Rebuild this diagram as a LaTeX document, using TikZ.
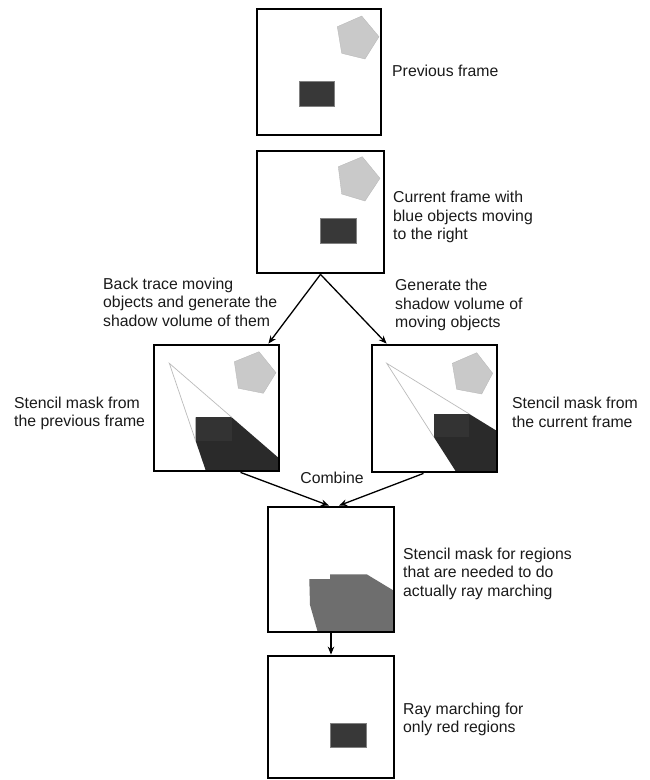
\documentclass[tikz,border=0pt]{standalone}
\usepackage{fontspec}
\setmainfont{Liberation Sans}
\usetikzlibrary{arrows.meta,calc}
\definecolor{objdark}{HTML}{383838}
\definecolor{objinshadow}{HTML}{333333}
\definecolor{shadowdark}{HTML}{2A2A2A}
\definecolor{pentagray}{HTML}{C9C9C9}
\definecolor{maskgray}{HTML}{6E6E6E}
\definecolor{raygray}{HTML}{BBBBBB}
\definecolor{txt}{HTML}{1A1A1A}
\begin{document}
\begin{tikzpicture}[x=1pt,y=-1pt,
  framebox/.style={draw=black, line width=2.8pt, inner sep=0pt},
  caption/.style={anchor=west, align=left, inner sep=0pt, text=txt,
    font=\fontsize{15.8}{18.5}\selectfont},
  flow/.style={-{Stealth[length=8pt,width=6.5pt]}, line width=1.3pt, black},
  pent/.style={fill=pentagray, draw=pentagray!90!black, line width=0.3pt},
  obj/.style={fill=objdark, draw=gray, line width=0.3pt},
  ray/.style={draw=raygray, line width=0.7pt}]

\useasboundingbox (0,0) rectangle (650,780);
\fill[white] (0,0) rectangle (650,780);

% ---------- frame 1: previous frame ----------
\fill[pent] (361.7,16) -- (379,36.7) -- (365,59) -- (341.7,53.3) -- (337.3,26.7) -- cycle;
\fill[obj] (299,80.7) rectangle (334,106);

% ---------- frame 2: current frame ----------
\fill[pent] (362.3,156.7) -- (380,178.3) -- (365,201) -- (341.7,194) -- (338.3,166.7) -- cycle;
\fill[obj] (320,218.3) rectangle (356,242.7);

% ---------- frame 3: stencil mask, previous frame ----------
\begin{scope}
  \clip (154,345) rectangle (279,471);
  \fill[pent] (259,351.7) -- (276,372.7) -- (263.3,393.3) -- (238.3,388.3) -- (234.3,361.7) -- cycle;
  \coordinate (L3) at (169.3,363.3);
  \coordinate (TL3) at (195.7,417.3);
  \coordinate (TR3) at (231.7,417.3);
  \coordinate (BL3) at (195.7,441);
  \fill[shadowdark] (TL3) -- (TR3) -- ($(L3)!3!(TR3)$) -- ($(L3)!3!(BL3)$) -- (BL3) -- cycle;
  \fill[objinshadow] (TL3) rectangle (231.7,441);
  \draw[ray] (TR3) -- (L3) -- (BL3);
\end{scope}

% ---------- frame 4: stencil mask, current frame ----------
\begin{scope}
  \clip (372,345) rectangle (497,472);
  \fill[pent] (476.7,352.7) -- (492.7,373.3) -- (481.7,394) -- (456.7,389.3) -- (452.3,363.3) -- cycle;
  \coordinate (L4) at (386.7,363.3);
  \coordinate (TL4) at (434,414);
  \coordinate (TR4) at (469.3,414);
  \coordinate (BL4) at (434,437.3);
  \fill[shadowdark] (TL4) -- (TR4) -- ($(L4)!3!(TR4)$) -- ($(L4)!3!(BL4)$) -- (BL4) -- cycle;
  \fill[objinshadow] (TL4) rectangle (469.3,437.3);
  \draw[ray] (TR4) -- (L4) -- (BL4);
\end{scope}

% ---------- frame 5: combined mask ----------
\begin{scope}
  \clip (268,507) rectangle (394,632);
  \fill[maskgray] (309.3,579) -- (330,579) -- (330,574.3) -- (366.7,574.3)
    -- (396,592) -- (396,634) -- (318.3,634) -- (310,605) -- cycle;
\end{scope}

% ---------- frame 6: ray marching result ----------
\fill[obj] (330,722.7) rectangle (365.7,746.7);

% ---------- frame outlines ----------
\node[framebox, minimum width=124pt, minimum height=126pt] (b1) at (319,72) {};
\node[framebox, minimum width=127pt, minimum height=122pt] (b2) at (320.5,212) {};
\node[framebox, minimum width=125pt, minimum height=126pt] (b3) at (216.5,408) {};
\node[framebox, minimum width=125pt, minimum height=127pt] (b4) at (434.5,408.5) {};
\node[framebox, minimum width=126pt, minimum height=125pt] (b5) at (331,569.5) {};
\node[framebox, minimum width=126pt, minimum height=122pt] (b6) at (331,717) {};

% ---------- captions ----------
\node[caption] (tprev) at (392,71) {Previous frame};
\node[caption] (tcur) at (393,217) {Current frame with\\blue objects moving\\to the right};
\node[caption] (tgen) at (395,305) {Generate the\\shadow volume of\\moving objects};
\node[caption] (tback) at (103,302) {Back trace moving\\objects and generate the\\shadow volume of them};
\node[caption] (tsm1) at (14,413.5) {Stencil mask from\\the previous frame};
\node[caption] (tsm2) at (512,412.5) {Stencil mask from\\the current frame};
\node[caption, anchor=center] (tcomb) at (332,478) {Combine};
\node[caption] (tsm3) at (403,573.5) {Stencil mask for regions\\that are needed to do\\actually ray marching};
\node[caption] (tray) at (403,719.5) {Ray marching for\\only red regions};

% ---------- connectors ----------
\draw[flow] (b2.south) -- ($(b3.north east)+(-12,0)$);
\draw[flow] (b2.south) -- ($(b4.north west)+(16,0)$);
\draw[flow] ($(b3.south)+(24,0)$) -- ($(b5.north)+(-2,0)$);
\draw[flow] ($(b4.south)+(-11,0)$) -- ($(b5.north)+(8,0)$);
\draw[flow] (b5.south) -- (b6.north);

\end{tikzpicture}
\end{document}
